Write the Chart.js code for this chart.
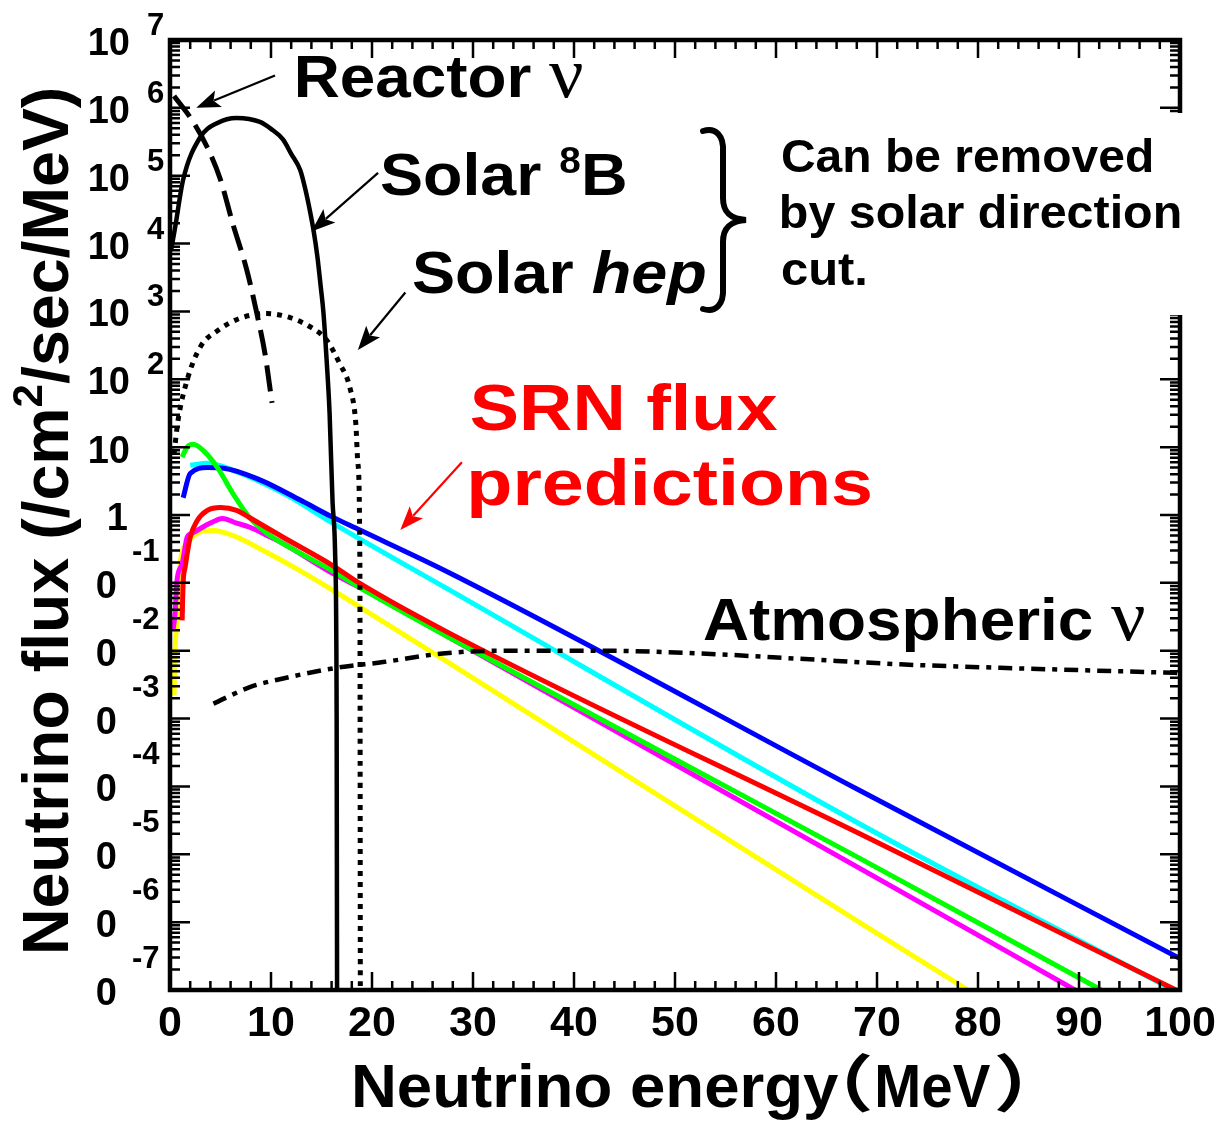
<!DOCTYPE html>
<html>
<head>
<meta charset="utf-8">
<script src="https://cdn.jsdelivr.net/npm/chart.js@4.4.1/dist/chart.umd.min.js"></script>
<style>
  html, body { margin: 0; padding: 0; background: #fff; }
  canvas { display: block; }
</style>
</head>
<body>
<canvas id="chart" width="1221" height="1122"></canvas>
<script>
// neutrino energy in MeV, flux in /cm^2/sec/MeV

// solar 8B
const b8_e = [0.1, 0.5, 1.3, 3.0, 4.7, 6.6, 8.9, 10.0, 11.2, 12.0, 12.9, 13.4, 13.9, 14.2, 14.6, 14.9, 15.2, 15.5, 15.8, 16.1, 16.35, 16.5, 16.55];
const b8_f = [7.9e3, 1.7e4, 8.7e4, 3.7e5, 6.0e5, 7.1e5, 6.2e5, 4.9e5, 3.4e5, 2.1e5, 1.2e5, 6.3e4, 2.8e4, 1.6e4, 6.3e3, 2.5e3, 9.3e2, 2.0e2, 32, 1.5, 0.27, 1e-3, 1e-8];

// reactor anti-neutrinos
const reac_e = [0.4, 2.3, 3.7, 5.0, 6.2, 7.6, 8.6, 9.4, 10.1];
const reac_f = [1.5e6, 6.2e5, 2.6e5, 8.7e4, 2.0e4, 4.1e3, 9.3e2, 2.4e2, 45];

// solar hep
const hep_e = [0.4, 0.8, 1.7, 3.0, 4.7, 6.9, 9.6, 11.9, 13.9, 15.5, 16.8, 17.8, 18.4, 18.6, 18.8, 18.85];
const hep_f = [8, 25, 98, 3.0e2, 5.2e2, 7.9e2, 9.3e2, 8.1e2, 5.9e2, 3.8e2, 1.7e2, 76, 22, 5.8, 0.2, 1e-8];

// atmospheric
const atm_e = [4.3, 7.9, 11.2, 16.5, 21.1, 27.0, 32.7, 42.6, 52.5, 62.4, 72.3, 82.2, 100];
const atm_f = [1.66e-3, 2.9e-3, 3.9e-3, 5.6e-3, 6.8e-3, 9.1e-3, 1.0e-2, 1.0e-2, 9.1e-3, 7.6e-3, 6.3e-3, 5.6e-3, 4.7e-3];

// SRN model predictions
const red_e = [1.2, 1.3, 1.5, 2.0, 2.7, 3.7, 5.0, 6.6, 7.9, 11.2, 16.1, 18.8, 27.7, 68.3, 99.6];
const red_f = [2.8e-2, 0.1, 0.17, 0.47, 0.83, 1.17, 1.29, 1.17, 0.91, 0.47, 0.18, 9.8e-2, 1.8e-2, 2.0e-5, 1e-7];

const green_e = [1.2, 1.7, 2.3, 3.3, 4.7, 6.2, 7.9, 9.6, 11.9, 16.1, 18.8, 27.7, 68.3, 92.2];
const green_f = [7.1, 10, 11, 8.9, 5.0, 2.1, 0.91, 0.54, 0.33, 0.15, 8.5e-2, 1.55e-2, 8.7e-6, 1e-7];

const magenta_e = [0.3, 0.5, 0.7, 1.2, 1.7, 2.2, 4.0, 5.2, 6.6, 7.9, 9.6, 11.2, 16.1, 18.8, 27.7, 68.3, 89.6];
const magenta_f = [2.0e-2, 3.5e-2, 0.11, 0.19, 0.47, 0.54, 0.76, 0.89, 0.76, 0.66, 0.50, 0.38, 0.138, 8.5e-2, 1.55e-2, 6.2e-6, 1e-7];

const blue_e = [1.3, 2.0, 3.7, 5.3, 8.9, 12.9, 16.1, 18.8, 27.7, 68.3, 100];
const blue_f = [1.8, 4.1, 5.0, 4.9, 3.3, 1.66, 0.93, 0.60, 0.14, 8.7e-5, 2.9e-7];

const cyan_e = [2.0, 3.7, 6.2, 11.2, 16.1, 27.7, 68.3, 100];
const cyan_f = [5.4, 5.8, 4.6, 2.1, 0.76, 7.8e-2, 2.8e-5, 8.9e-8];

const yellow_e = [0.4, 0.5, 0.7, 1.0, 1.7, 2.7, 4.3, 6.2, 9.6, 12.9, 16.1, 18.8, 27.7, 68.3, 79];
const yellow_f = [2.2e-3, 1e-2, 2.8e-2, 0.19, 0.38, 0.54, 0.59, 0.5, 0.28, 0.15, 7.8e-2, 4.4e-2, 6.5e-3, 9.8e-7, 1e-7];

// axis ticks
const xMajor = [0, 10, 20, 30, 40, 50, 60, 70, 80, 90, 100];
const yPowers = [-7, -6, -5, -4, -3, -2, -1, 0, 1, 2, 3, 4, 5, 6, 7];

const SANS = "'Liberation Sans', Arial, Helvetica, sans-serif";
const SERIF = "'Liberation Serif', 'Times New Roman', serif";
const CJK = "'Noto Sans CJK JP', 'Noto Sans CJK SC', sans-serif";

function pts(e, f) {
  return e.map((x, i) => ({ x: x, y: f[i] }));
}

function line(data, color, width, dash) {
  return {
    data: data,
    borderColor: color,
    borderWidth: width,
    borderDash: dash || [],
    pointRadius: 0,
    fill: false,
    cubicInterpolationMode: 'monotone'
  };
}

// draw a row of text pieces [text, font, dy] so that its ink fills `width`
function runs(ctx, parts, x, y, opt) {
  opt = opt || {};
  let cx = 0, lo = Infinity, hi = -Infinity;
  const pos = [];
  parts.forEach(p => {
    ctx.font = p[1];
    const m = ctx.measureText(p[0]);
    lo = Math.min(lo, cx - m.actualBoundingBoxLeft);
    hi = Math.max(hi, cx + m.actualBoundingBoxRight);
    pos.push(cx);
    cx += m.width;
  });
  const ink = hi - lo;
  const sx = opt.width ? opt.width / ink : 1;
  const shift = opt.align === 'center' ? -ink / 2 : 0;
  ctx.save();
  ctx.translate(x, y);
  if (opt.rotate) ctx.rotate(opt.rotate);
  ctx.scale(sx, 1);
  ctx.fillStyle = opt.color || '#000';
  ctx.textAlign = 'left';
  ctx.textBaseline = 'alphabetic';
  parts.forEach((p, i) => {
    ctx.font = p[1];
    ctx.fillText(p[0], pos[i] - lo + shift, p[2] || 0);
  });
  ctx.restore();
}

function arrow(ctx, x1, y1, x2, y2, color) {
  const a = Math.atan2(y2 - y1, x2 - x1);
  const len = 24, half = 9;
  const c = Math.cos(a), s = Math.sin(a);
  ctx.save();
  ctx.strokeStyle = color;
  ctx.fillStyle = color;
  ctx.lineWidth = 2.2;
  ctx.beginPath();
  ctx.moveTo(x1, y1);
  ctx.lineTo(x2 - c * len * 0.8, y2 - s * len * 0.8);
  ctx.stroke();
  ctx.beginPath();
  ctx.moveTo(x2, y2);
  ctx.lineTo(x2 - c * len + s * half, y2 - s * len - c * half);
  ctx.lineTo(x2 - c * len * 0.78, y2 - s * len * 0.78);
  ctx.lineTo(x2 - c * len - s * half, y2 - s * len + c * half);
  ctx.closePath();
  ctx.fill();
  ctx.restore();
}

const decor = {
  id: 'decor',
  afterDraw(chart) {
    const ctx = chart.ctx;
    const xs = chart.scales.x, ys = chart.scales.y;
    const a = chart.chartArea;

    ctx.save();
    ctx.strokeStyle = '#000';

    // ticks on all four sides, pointing inward
    ctx.lineWidth = 2.5;
    ctx.beginPath();
    for (let v = 0; v <= 100; v += 2) {
      const px = xs.getPixelForValue(v);
      const len = v % 10 === 0 ? 18 : 9;
      ctx.moveTo(px, a.bottom); ctx.lineTo(px, a.bottom - len);
      ctx.moveTo(px, a.top); ctx.lineTo(px, a.top + len);
    }
    for (let p = -7; p < 7; p++) {
      for (let k = 1; k <= 9; k++) {
        const py = ys.getPixelForValue(k * Math.pow(10, p));
        const len = k === 1 ? 20 : 10;
        ctx.moveTo(a.left, py); ctx.lineTo(a.left + len, py);
        ctx.moveTo(a.right, py); ctx.lineTo(a.right - len, py);
      }
    }
    const pTop = ys.getPixelForValue(1e7);
    ctx.moveTo(a.left, pTop); ctx.lineTo(a.left + 20, pTop);
    ctx.moveTo(a.right, pTop); ctx.lineTo(a.right - 20, pTop);
    ctx.stroke();

    // frame
    ctx.lineWidth = 4.5;
    ctx.strokeRect(a.left, a.top, a.right - a.left, a.bottom - a.top);
    ctx.restore();

    // x tick labels
    ctx.save();
    ctx.fillStyle = '#000';
    ctx.font = 'bold 43px ' + SANS;
    ctx.textAlign = 'center';
    ctx.textBaseline = 'alphabetic';
    xMajor.forEach(v => ctx.fillText(String(v), xs.getPixelForValue(v), 1036));

    // y tick labels, ROOT style exponents
    yPowers.forEach(p => {
      const py = ys.getPixelForValue(Math.pow(10, p));
      ctx.textAlign = 'right';
      ctx.font = 'bold 38px ' + SANS;
      if (p === 0) {
        ctx.fillText('1', 128, py + 15);
      } else if (p === 1) {
        ctx.fillText('10', 130, py + 16);
      } else if (p > 1) {
        ctx.fillText('10', 130, py + 15);
        ctx.textAlign = 'left';
        ctx.font = 'bold 31px ' + SANS;
        ctx.fillText(String(p), 147, py - 5);
      } else {
        ctx.fillText('0', 117, py + 15);
        ctx.textAlign = 'left';
        ctx.font = 'bold 31px ' + SANS;
        ctx.fillText('-' + (-p), 132, py - 22);
      }
    });
    ctx.restore();

    // axis titles
    const B = s => 'bold ' + s + 'px ' + SANS;
    runs(ctx, [['Neutrino energy', B(62)]], 355, 1107, { width: 484 });
    runs(ctx, [['\uFF08', 'bold 62px ' + CJK]], 847, 1107, { width: 24 });
    runs(ctx, [['MeV', B(62)]], 878, 1107, { width: 112 });
    runs(ctx, [['\uFF09', 'bold 62px ' + CJK]], 996, 1107, { width: 24 });
    runs(ctx, [['Neutrino flux (/cm', B(64)], ['2', B(42), -26], ['/sec/MeV)', B(64)]],
      68, 520, { align: 'center', rotate: -Math.PI / 2, width: 862 });

    // note box on the right hides part of the frame
    ctx.save();
    ctx.fillStyle = '#fff';
    ctx.fillRect(765, 113, 432, 202);
    ctx.restore();

    // labels
    runs(ctx, [['Reactor ', B(60)], ['\u03BD', '72px ' + SERIF]], 298, 97, { width: 284 });
    runs(ctx, [['Solar ', B(60)], ['8', B(36), -22], ['B', B(60)]], 381, 195, { width: 244 });
    runs(ctx, [['Solar ', B(60)], ['hep', 'italic bold 60px ' + SANS]], 413, 293, { width: 292 });
    runs(ctx, [['Can be removed', B(46)]], 782, 172, { width: 370 });
    runs(ctx, [['by solar direction', B(46)]], 782, 228, { width: 398 });
    runs(ctx, [['cut.', B(46)]], 782, 285, { width: 83 });
    runs(ctx, [['SRN flux', B(64)]], 471, 430, { width: 307, color: '#ff0000' });
    runs(ctx, [['predictions', B(64)]], 471, 505, { width: 399, color: '#ff0000' });
    runs(ctx, [['Atmospheric ', B(60)], ['\u03BD', '72px ' + SERIF]], 704, 640, { width: 440 });

    // arrows to the curves (given in MeV, flux)
    const P = (e, f) => [xs.getPixelForValue(e), ys.getPixelForValue(f)];
    const arr = (from, to, c) => arrow(ctx, from[0], from[1], to[0], to[1], c);
    arr(P(10.4, 3.0e6), P(2.6, 1.0e6), '#000');
    arr(P(20.6, 1.1e5), P(14.0, 1.5e4), '#000');
    arr(P(23.3, 1.9e3), P(18.6, 2.7e2), '#000');
    arr(P(28.9, 6.0), P(22.8, 0.6), '#ff0000');

    // curly brace grouping the solar labels
    ctx.save();
    ctx.strokeStyle = '#000';
    ctx.lineWidth = 6;
    ctx.lineCap = 'round';
    ctx.beginPath();
    ctx.moveTo(703, 131);
    ctx.bezierCurveTo(716, 127, 724, 136, 723, 152);
    ctx.lineTo(723, 198);
    ctx.bezierCurveTo(723, 214, 732, 219, 746, 220);
    ctx.bezierCurveTo(732, 221, 723, 226, 723, 242);
    ctx.lineTo(723, 288);
    ctx.bezierCurveTo(724, 304, 716, 313, 703, 309);
    ctx.stroke();
    ctx.restore();
  }
};

new Chart(document.getElementById('chart'), {
  type: 'line',
  data: {
    datasets: [
      line(pts(b8_e, b8_f), '#000', 4.5),
      line(pts(reac_e, reac_f), '#000', 5, [26, 10]),
      line(pts(hep_e, hep_f), '#000', 5, [5, 6]),
      line(pts(atm_e, atm_f), '#000', 4.5, [14, 7, 5, 7]),
      line(pts(red_e, red_f), '#ff0000', 5),
      line(pts(green_e, green_f), '#00ff00', 5),
      line(pts(magenta_e, magenta_f), '#ff00ff', 5),
      line(pts(blue_e, blue_f), '#0000ff', 5),
      line(pts(cyan_e, cyan_f), '#00ffff', 5),
      line(pts(yellow_e, yellow_f), '#ffff00', 5)
    ]
  },
  options: {
    responsive: false,
    animation: false,
    devicePixelRatio: 1,
    layout: { padding: { left: 170, top: 40, right: 41, bottom: 132 } },
    plugins: { legend: { display: false }, tooltip: { enabled: false } },
    scales: {
      x: { type: 'linear', min: 0, max: 100, display: false },
      y: { type: 'logarithmic', min: 1e-7, max: 1e7, display: false }
    }
  },
  plugins: [decor]
});
</script>
</body>
</html>
